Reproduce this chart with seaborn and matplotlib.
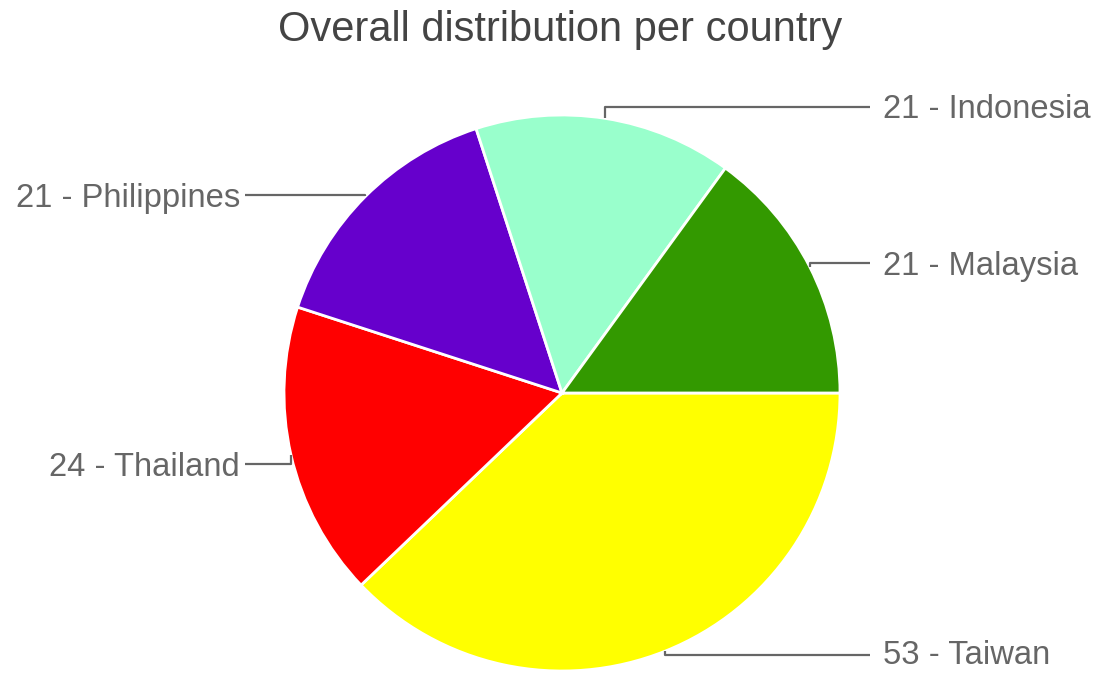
import numpy as np
import pandas as pd
import matplotlib
matplotlib.use('Agg')
import matplotlib.pyplot as plt
import seaborn as sns

# slices go clockwise from 3 o'clock
countries = ['Taiwan', 'Thailand', 'Philippines', 'Indonesia', 'Malaysia']
counts = [53, 24, 21, 21, 21]
colors = ['#ffff00', '#ff0000', '#6600cc', '#99ffcc', '#339900']
# pixel row (from top) of each label
label_y = [655, 464, 195, 107, 263]

df = pd.DataFrame({'country': countries, 'count': counts})

sns.set_theme(style='white')
plt.rcParams['font.family'] = ['Liberation Sans', 'DejaVu Sans']

W, H = 1094, 674
fig = plt.figure(figsize=(W / 100, H / 100), dpi=100)
ax = fig.add_axes([0, 0, 1, 1])

cx, cy, r = 562, H - 393, 278
wedges, _ = ax.pie(df['count'], colors=colors, startangle=0, counterclock=False,
                   center=(cx, cy), radius=r,
                   wedgeprops=dict(edgecolor='white', linewidth=2))

ax.set_xlim(0, W)
ax.set_ylim(0, H)
ax.set_aspect('equal')
ax.axis('off')

for w, name, n, ly in zip(wedges, df['country'], df['count'], label_y):
    mid = np.deg2rad((w.theta1 + w.theta2) / 2)
    ex, ey = cx + r * np.cos(mid), cy + r * np.sin(mid)
    y = H - ly
    if np.cos(mid) > 0:
        xs, tx, ha = 870, 883, 'left'
    else:
        xs, tx, ha = 245, 240, 'right'
    ax.plot([ex, ex, xs], [ey, y, y], color='#666666', lw=1.6, solid_capstyle='butt')
    # keep the bottom label inside the canvas
    dy = 1 if ly > 600 else 3
    ax.text(tx, y - dy, f'{n} - {name}', ha=ha, va='center', fontsize=23.6, color='#666666')

ax.text(560, H - 30, 'Overall distribution per country', ha='center', va='center',
        fontsize=30, color='#444444')

fig.savefig('out.png', dpi=100)
